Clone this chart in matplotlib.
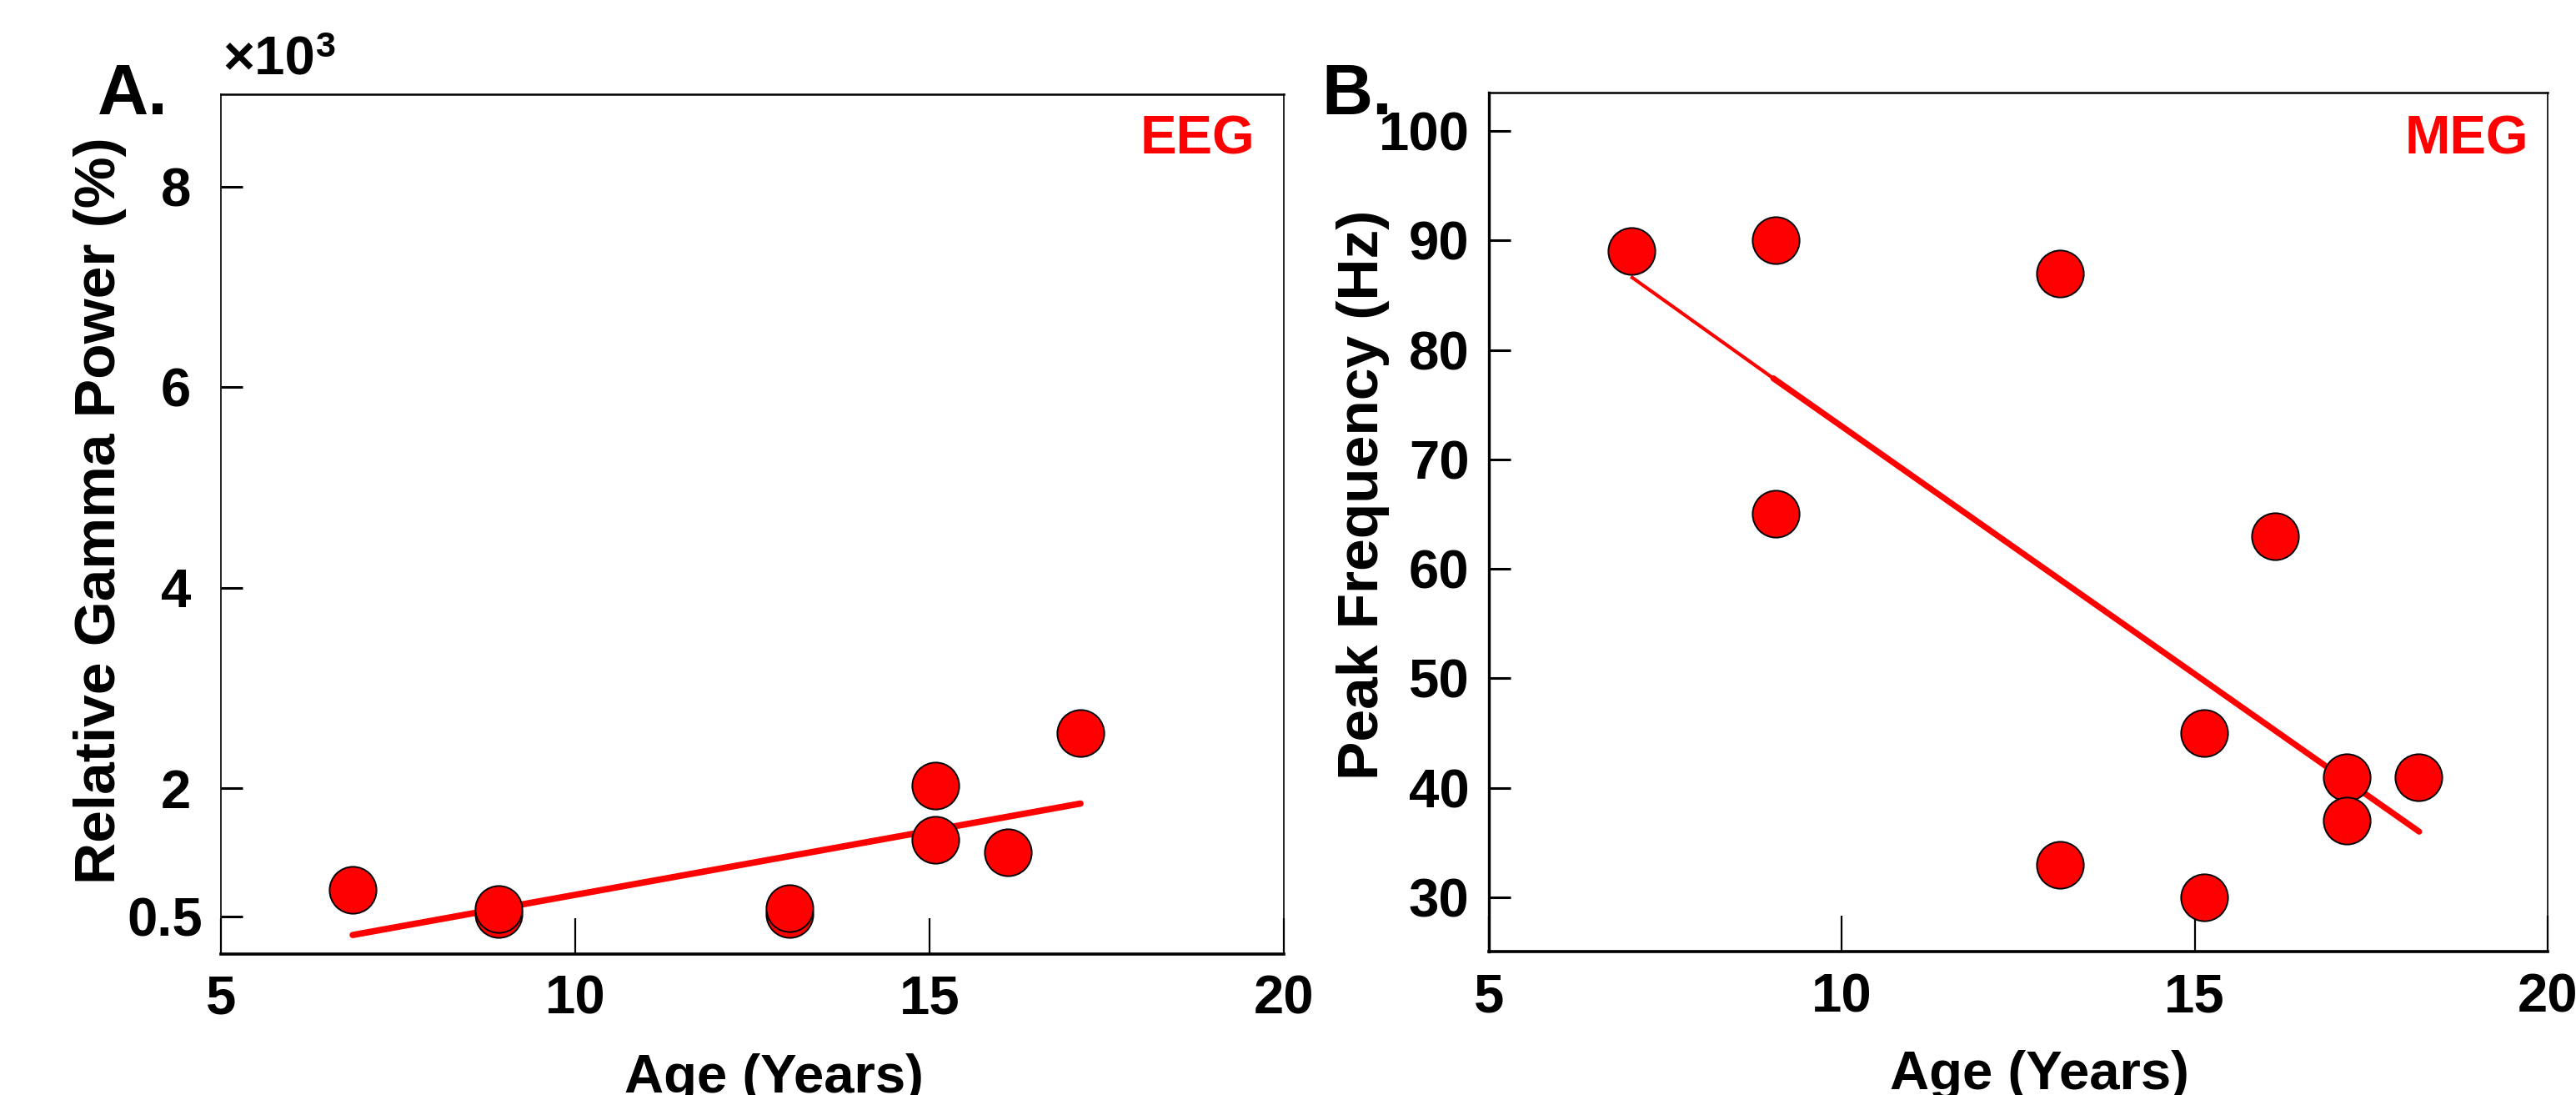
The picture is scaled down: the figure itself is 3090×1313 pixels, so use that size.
import matplotlib.pyplot as plt
from matplotlib.transforms import ScaledTranslation

plt.rcParams["font.family"] = ["Liberation Sans", "DejaVu Sans"]
plt.rcParams["font.weight"] = "bold"

# --- Panel A: EEG relative gamma power (x10^3) vs age ---
eeg_age = [6.86, 8.92, 8.92, 13.02, 13.02, 15.08, 15.08, 16.11, 17.13]
eeg_gamma = [0.99, 0.75, 0.80, 0.75, 0.81, 2.03, 1.49, 1.36, 2.55]
eeg_fit_age = [6.86, 17.13]
eeg_fit_gamma = [0.54, 1.85]
eeg_yticks = [0.72, 2, 4, 6, 8]
eeg_yticklabels = ["0.5", "2", "4", "6", "8"]

# --- Panel B: MEG peak gamma frequency vs age ---
meg_age = [7.02, 9.06, 9.06, 13.09, 13.09, 15.13, 15.13, 16.14, 17.15, 17.15, 18.17]
meg_peak = [89, 90, 65, 87, 33, 45, 30, 63, 41, 37, 41]
meg_fit_age = [7.01, 9.03, 18.18]
meg_fit_peak = [86.7, 77.4, 36.0]
meg_yticks = [30, 40, 50, 60, 70, 80, 90, 100]

age_ticks = [5, 10, 15, 20]

W, H = 3090, 1313
RED = "#ff0000"
FS = 47
FS_YLABEL = 50


def add_axes_px(fig, left, top, right, bottom):
    """Place an axes using pixel edges of the 3090x1313 canvas."""
    return fig.add_axes([left / W, 1 - bottom / H, (right - left) / W, (bottom - top) / H])


def style_axes(ax, ypad):
    for side in ("left", "right"):
        ax.spines[side].set_linewidth(1.2)
    ax.spines["top"].set_linewidth(1.8)
    ax.spines["bottom"].set_linewidth(2.6)
    ax.tick_params(axis="y", direction="in", length=19, width=2.2,
                   pad=ypad, labelsize=FS)
    ax.tick_params(axis="x", direction="in", length=31, width=1.6,
                   pad=18, labelsize=FS)
    ax.set_xlim(5, 20)
    ax.set_xticks(age_ticks)
    ax.set_xlabel("Age (Years)", fontsize=FS, fontweight="bold")
    ax.xaxis.set_label_coords(0.52, -0.115, transform=ax.transAxes)
    ax.xaxis.label.set_va("top")


def scatter_points(ax, xs, ys):
    ax.plot(xs, ys, "o", ms=40.5, mfc=RED, mec="black", mew=1.4,
            zorder=3, clip_on=False)


fig = plt.figure(figsize=(W / 100, H / 100), dpi=100)

# ---- Panel A ----
ax1 = add_axes_px(fig, 265, 113, 1540, 1144)
style_axes(ax1, ypad=26)
ax1.plot(eeg_fit_age, eeg_fit_gamma, color=RED, lw=5.5,
         solid_capstyle="round", zorder=2)
scatter_points(ax1, eeg_age, eeg_gamma)
ax1.set_ylim(0.35, 8.92)
ax1.set_yticks(eeg_yticks)
ax1.set_yticklabels(eeg_yticklabels)
# the "0.5" label sits a little further right than the others
lbl = ax1.get_yticklabels()[0]
lbl.set_transform(lbl.get_transform() + ScaledTranslation(0.14, 0, fig.dpi_scale_trans))
ax1.set_ylabel("Relative Gamma Power (%)", fontsize=FS_YLABEL, fontweight="bold")
ax1.yaxis.set_label_coords(-0.089, 0.516)
ax1.text(0.9725, 0.9305, "EEG", color=RED, fontsize=FS, fontweight="bold",
         ha="right", va="baseline", transform=ax1.transAxes)

fig.text(117 / W, 1 - 137 / H, "A.", fontsize=61, fontweight="bold",
         ha="left", va="baseline")
fig.text(267 / W, 1 - 89 / H, "\u00d710", fontsize=FS, fontweight="bold",
         ha="left", va="baseline")
fig.text(378 / W, 1 - 68 / H, "3", fontsize=31, fontweight="bold",
         ha="left", va="baseline")

# ---- Panel B ----
ax2 = add_axes_px(fig, 1786, 111, 3056, 1141)
style_axes(ax2, ypad=17)
ax2.spines["left"].set_linewidth(2.4)
ax2.plot(meg_fit_age[:2], meg_fit_peak[:2], color=RED, lw=3.0,
         solid_capstyle="butt", zorder=2)
ax2.plot(meg_fit_age[1:], meg_fit_peak[1:], color=RED, lw=5.2,
         solid_capstyle="round", zorder=2)
scatter_points(ax2, meg_age, meg_peak)
ax2.set_ylim(25.05, 103.5)
ax2.set_yticks(meg_yticks)
ax2.set_ylabel("Peak Frequency (Hz)", fontsize=FS_YLABEL, fontweight="bold")
ax2.yaxis.set_label_coords(-0.094, 0.532)
ax2.text(0.9819, 0.9289, "MEG", color=RED, fontsize=FS, fontweight="bold",
         ha="right", va="baseline", transform=ax2.transAxes)

fig.text(1585 / W, 1 - 137 / H, "B.", fontsize=61, fontweight="bold",
         ha="left", va="baseline")

fig.savefig("out.png", dpi=100)
